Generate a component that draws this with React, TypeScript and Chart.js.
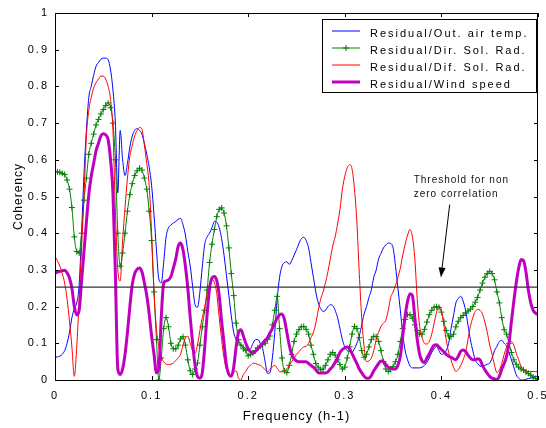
import React, { useEffect, useRef } from 'react';
import { Chart, registerables } from 'chart.js';

Chart.register(...registerables);

const FONT = '"Liberation Sans", Arial, Helvetica, sans-serif';

// Frequency grid step (h-1)
const STEP = 0.0025;

const SERIES_LABELS = [
  'Residual/Out. air temp.',
  'Residual/Dir. Sol. Rad.',
  'Residual/Dif. Sol. Rad.',
  'Residual/Wind speed',
];

const X_TICKS_STEP = 0.1;
const Y_TICKS_STEP = 0.1;
const THRESHOLD = 0.253;
const ANNOTATION_LINES = ['Threshold for non', 'zero correlation'];

const OUT_AIR_TEMP = [
  0.062, 0.063, 0.065, 0.07, 0.08, 0.1, 0.13, 0.17, 0.195, 0.21,
  0.26, 0.4, 0.56, 0.68, 0.77, 0.8, 0.83, 0.855, 0.865, 0.874,
  0.877, 0.877, 0.873, 0.845, 0.79, 0.7, 0.51, 0.68, 0.6, 0.557,
  0.59, 0.635, 0.665, 0.68, 0.685, 0.68, 0.67, 0.645, 0.615, 0.58,
  0.53, 0.45, 0.355, 0.275, 0.265, 0.32, 0.39, 0.415, 0.422, 0.428,
  0.432, 0.438, 0.44, 0.423, 0.395, 0.35, 0.31, 0.255, 0.205, 0.198,
  0.24, 0.31, 0.37, 0.39, 0.4, 0.415, 0.432, 0.43, 0.415, 0.385,
  0.34, 0.285, 0.23, 0.175, 0.13, 0.11, 0.1, 0.095, 0.092, 0.085,
  0.08, 0.085, 0.1, 0.11, 0.11, 0.1, 0.085, 0.05, 0.018, 0.02,
  0.06, 0.13, 0.22, 0.28, 0.31, 0.32, 0.322, 0.315, 0.325, 0.34,
  0.355, 0.372, 0.385, 0.389, 0.38, 0.36, 0.32, 0.28, 0.24, 0.21,
  0.195, 0.187, 0.19, 0.2, 0.205, 0.203, 0.19, 0.17, 0.14, 0.11,
  0.09, 0.08, 0.077, 0.076, 0.085, 0.1, 0.12, 0.15, 0.18, 0.2,
  0.225, 0.246, 0.28, 0.3, 0.33, 0.345, 0.36, 0.368, 0.373, 0.372,
  0.36, 0.31, 0.25, 0.19, 0.125, 0.08, 0.055, 0.038, 0.033, 0.033,
  0.033, 0.033, 0.035, 0.04, 0.048, 0.06, 0.075, 0.085, 0.092, 0.08,
  0.07, 0.072, 0.08, 0.1, 0.14, 0.175, 0.21, 0.222, 0.228, 0.215,
  0.19, 0.15, 0.11, 0.08, 0.055, 0.045, 0.038, 0.037, 0.04, 0.043,
  0.046, 0.06, 0.08, 0.092, 0.105, 0.108, 0.1, 0.092, 0.075, 0.055,
  0.035, 0.014, 0.005, 0.0, 0.0, 0.002, 0.004, 0.005, 0.008, 0.01,
  0.01,
];

const DIR_SOL_RAD = [
  0.568, 0.567, 0.566, 0.563, 0.56, 0.545, 0.52, 0.47, 0.39, 0.35,
  0.346, 0.4, 0.49, 0.55, 0.615, 0.645, 0.67, 0.695, 0.71, 0.725,
  0.737, 0.748, 0.755, 0.742, 0.7, 0.6, 0.4, 0.31, 0.346, 0.4,
  0.46, 0.505, 0.535, 0.557, 0.57, 0.577, 0.572, 0.55, 0.52, 0.46,
  0.38, 0.24, 0.11, 0.0, 0.06, 0.14, 0.17, 0.145, 0.1, 0.085,
  0.085, 0.095, 0.112, 0.118, 0.095, 0.055, 0.025, 0.015, 0.03, 0.046,
  0.095, 0.145, 0.19, 0.245, 0.32, 0.37, 0.41, 0.445, 0.465, 0.469,
  0.455, 0.42, 0.36, 0.29, 0.23, 0.155, 0.11, 0.095, 0.085, 0.08,
  0.066, 0.07, 0.074, 0.08, 0.088, 0.092, 0.097, 0.1, 0.11, 0.12,
  0.15, 0.19, 0.228, 0.14, 0.06, 0.025, 0.02, 0.04, 0.07, 0.105,
  0.125, 0.137, 0.145, 0.146, 0.138, 0.125, 0.095, 0.07, 0.045, 0.035,
  0.028, 0.03, 0.04, 0.055, 0.07, 0.075, 0.068, 0.055, 0.042, 0.03,
  0.035, 0.06, 0.09, 0.125, 0.146, 0.14, 0.115, 0.08, 0.062, 0.07,
  0.09, 0.11, 0.119, 0.118, 0.105, 0.08, 0.05, 0.03, 0.023, 0.028,
  0.037, 0.05, 0.07, 0.105, 0.14, 0.165, 0.178, 0.178, 0.168, 0.15,
  0.135, 0.125, 0.125, 0.138, 0.158, 0.178, 0.19, 0.198, 0.2, 0.198,
  0.185, 0.16, 0.135, 0.12, 0.118, 0.125, 0.145, 0.16, 0.17, 0.176,
  0.183, 0.188, 0.193, 0.2, 0.212, 0.225, 0.245, 0.264, 0.28, 0.29,
  0.296, 0.29, 0.273, 0.24, 0.21, 0.17, 0.137, 0.125, 0.1, 0.075,
  0.055, 0.043, 0.035, 0.03, 0.027, 0.022, 0.018, 0.013, 0.008, 0.004,
  0.0,
];

const DIF_SOL_RAD = [
  0.337, 0.325, 0.31, 0.29, 0.264, 0.22, 0.16, 0.09, 0.01, 0.09,
  0.22, 0.36, 0.5, 0.665, 0.735, 0.77, 0.795, 0.81, 0.82, 0.828,
  0.828, 0.82, 0.8, 0.765, 0.68, 0.46, 0.3, 0.27, 0.38, 0.47,
  0.55, 0.61, 0.64, 0.665, 0.68, 0.688, 0.683, 0.64, 0.59, 0.53,
  0.4, 0.24, 0.14, 0.09, 0.064, 0.05, 0.043, 0.042, 0.043, 0.046,
  0.053, 0.06, 0.07, 0.095, 0.115, 0.119, 0.1, 0.08, 0.073, 0.095,
  0.135, 0.17, 0.2, 0.235, 0.26, 0.275, 0.265, 0.235, 0.17, 0.11,
  0.06, 0.028, 0.018, 0.01, 0.02, 0.025, 0.005, 0.0, 0.015, 0.023,
  0.035, 0.04, 0.046, 0.045, 0.042, 0.04, 0.035, 0.028, 0.023, 0.028,
  0.036, 0.04, 0.032, 0.023, 0.022, 0.025, 0.03, 0.04, 0.05, 0.06,
  0.07, 0.077, 0.085, 0.09, 0.092, 0.1, 0.115, 0.13, 0.155, 0.19,
  0.22, 0.24, 0.265, 0.295, 0.33, 0.365, 0.39, 0.425, 0.465, 0.52,
  0.555, 0.578, 0.587, 0.575, 0.52, 0.43, 0.29, 0.17, 0.09, 0.05,
  0.052, 0.06, 0.08, 0.11, 0.13, 0.146, 0.155, 0.163, 0.19, 0.225,
  0.24, 0.258, 0.28, 0.305, 0.34, 0.37, 0.395, 0.41, 0.39, 0.33,
  0.22, 0.146, 0.115, 0.1, 0.098, 0.105, 0.125, 0.155, 0.185, 0.2,
  0.19, 0.15, 0.11, 0.075, 0.055, 0.035, 0.023, 0.028, 0.04, 0.055,
  0.075, 0.11, 0.146, 0.17, 0.187, 0.192, 0.19, 0.18, 0.158, 0.13,
  0.095, 0.07, 0.04, 0.02, 0.028, 0.045, 0.07, 0.09, 0.103, 0.105,
  0.095, 0.073, 0.055, 0.037, 0.03, 0.025, 0.023, 0.023, 0.023, 0.023,
  0.023,
];

const WIND_SPEED = [
  0.291, 0.294, 0.296, 0.298, 0.299, 0.292, 0.278, 0.25, 0.2, 0.177,
  0.19, 0.27, 0.35, 0.43, 0.505, 0.555, 0.59, 0.625, 0.645, 0.665,
  0.671, 0.668, 0.655, 0.6, 0.51, 0.29, 0.03, 0.015, 0.03, 0.07,
  0.13, 0.2, 0.26, 0.29, 0.302, 0.305, 0.295, 0.265, 0.23, 0.18,
  0.12, 0.07, 0.02, 0.03, 0.17, 0.264, 0.27, 0.273, 0.282, 0.305,
  0.33, 0.364, 0.373, 0.355, 0.31, 0.25, 0.17, 0.1, 0.04, 0.01,
  0.005, 0.02, 0.09, 0.18, 0.25, 0.278, 0.282, 0.27, 0.23, 0.16,
  0.1, 0.04, 0.015, 0.01, 0.035, 0.09, 0.13, 0.137, 0.12, 0.1,
  0.085, 0.077, 0.074, 0.078, 0.085, 0.092, 0.1, 0.108, 0.115, 0.128,
  0.14, 0.155, 0.168, 0.178, 0.18, 0.165, 0.13, 0.095, 0.07, 0.058,
  0.052, 0.05, 0.05, 0.05, 0.05, 0.045, 0.04, 0.035, 0.028, 0.02,
  0.019, 0.019, 0.019, 0.022, 0.03, 0.037, 0.048, 0.06, 0.075, 0.083,
  0.088, 0.09, 0.085, 0.072, 0.058, 0.045, 0.03, 0.02, 0.01, 0.005,
  0.005, 0.012, 0.025, 0.035, 0.045, 0.052, 0.05, 0.042, 0.035, 0.033,
  0.03, 0.03, 0.04, 0.065, 0.12, 0.175, 0.215, 0.235, 0.23, 0.17,
  0.11, 0.07, 0.052, 0.048, 0.06, 0.072, 0.085, 0.095, 0.096, 0.09,
  0.083, 0.077, 0.07, 0.065, 0.062, 0.058, 0.055, 0.065, 0.078, 0.082,
  0.078, 0.068, 0.06, 0.055, 0.055, 0.058, 0.055, 0.04, 0.028, 0.018,
  0.01, 0.005, 0.003, 0.002, 0.01, 0.03, 0.045, 0.065, 0.1, 0.16,
  0.215, 0.265, 0.305, 0.328, 0.325, 0.295, 0.245, 0.21, 0.19, 0.182,
  0.178,
];

const FREQ = OUT_AIR_TEMP.map((_, i) => Math.round(i * STEP * 10000) / 10000);

const COLORS = ['#0000ff', '#008000', '#ff0000', '#bf00bf'];
const WIDTHS = [1, 1, 1, 3];

const toXY = (vals: number[]) => vals.map((v, i) => ({ x: FREQ[i], y: v }));
const fmtTick = (v: any) => String(Number(Number(v).toFixed(2)));

const overlayPlugin = {
  id: 'overlay',
  beforeDraw(chart: any) {
    chart.ctx.letterSpacing = '2px';
  },
  afterDatasetsDraw(chart: any) {
    chart.ctx.letterSpacing = '1px';
  },
  afterDraw(chart: any) {
    const { ctx, chartArea: a } = chart;
    const xs = chart.scales.x;
    const ys = chart.scales.y;
    ctx.save();
    ctx.letterSpacing = '0px';
    // axes box
    ctx.strokeStyle = '#000';
    ctx.lineWidth = 1;
    ctx.strokeRect(a.left + 0.5, a.top + 0.5, a.right - a.left - 1, a.bottom - a.top);
    // inward ticks on all four sides
    const TL = 4;
    ctx.beginPath();
    xs.ticks.forEach((t: any) => {
      const px = Math.round(xs.getPixelForValue(t.value)) + 0.5;
      ctx.moveTo(px, a.bottom);
      ctx.lineTo(px, a.bottom - TL);
      ctx.moveTo(px, a.top);
      ctx.lineTo(px, a.top + TL);
    });
    ys.ticks.forEach((t: any) => {
      const py = Math.round(ys.getPixelForValue(t.value)) + 0.5;
      ctx.moveTo(a.left, py);
      ctx.lineTo(a.left + TL, py);
      ctx.moveTo(a.right, py);
      ctx.lineTo(a.right - TL, py);
    });
    ctx.stroke();

    // annotation text
    ctx.fillStyle = '#111';
    ctx.font = `10px ${FONT}`;
    ctx.letterSpacing = '1px';
    ctx.textBaseline = 'alphabetic';
    ctx.textAlign = 'left';
    const tx = xs.getPixelForValue(0.3713);
    ctx.fillText(ANNOTATION_LINES[0], tx, ys.getPixelForValue(0.536));
    ctx.fillText(ANNOTATION_LINES[1], tx, ys.getPixelForValue(0.5));
    ctx.letterSpacing = '0px';

    // arrow
    const x0 = xs.getPixelForValue(0.4086);
    const y0 = ys.getPixelForValue(0.478);
    const x1 = xs.getPixelForValue(0.3995);
    const y1 = ys.getPixelForValue(0.279);
    const ang = Math.atan2(y1 - y0, x1 - x0);
    const hl = 10;
    const hw = 3.5;
    ctx.strokeStyle = '#000';
    ctx.lineWidth = 1;
    ctx.beginPath();
    ctx.moveTo(x0, y0);
    ctx.lineTo(x1 - Math.cos(ang) * hl * 0.6, y1 - Math.sin(ang) * hl * 0.6);
    ctx.stroke();
    const bx = x1 - Math.cos(ang) * hl;
    const by = y1 - Math.sin(ang) * hl;
    ctx.fillStyle = '#000';
    ctx.beginPath();
    ctx.moveTo(x1, y1);
    ctx.lineTo(bx + Math.sin(ang) * hw, by - Math.cos(ang) * hw);
    ctx.lineTo(bx - Math.sin(ang) * hw, by + Math.cos(ang) * hw);
    ctx.closePath();
    ctx.fill();

    // legend
    const lw = 214;
    const lh = 73;
    const lx = a.right - 216;
    const ly = a.top + 6;
    ctx.fillStyle = '#fff';
    ctx.fillRect(lx, ly, lw, lh);
    ctx.strokeStyle = '#000';
    ctx.lineWidth = 1;
    ctx.strokeRect(lx + 0.5, ly + 0.5, lw, lh);
    ctx.font = `11px ${FONT}`;
    ctx.letterSpacing = '2px';
    ctx.textBaseline = 'alphabetic';
    SERIES_LABELS.forEach((lab, i) => {
      const yy = ly + 12 + 17 * i;
      ctx.strokeStyle = COLORS[i];
      ctx.lineWidth = WIDTHS[i];
      ctx.beginPath();
      ctx.moveTo(lx + 10, yy);
      ctx.lineTo(lx + 38, yy);
      ctx.stroke();
      if (i === 1) {
        ctx.lineWidth = 1;
        ctx.beginPath();
        ctx.moveTo(lx + 24, yy - 3);
        ctx.lineTo(lx + 24, yy + 3);
        ctx.moveTo(lx + 21, yy);
        ctx.lineTo(lx + 27, yy);
        ctx.stroke();
      }
      ctx.fillStyle = '#000';
      ctx.fillText(lab, lx + 48, yy + 6);
    });
    ctx.restore();
  },
};

export default function App() {
  const ref = useRef<HTMLCanvasElement>(null);
  useEffect(() => {
    const seriesData = [OUT_AIR_TEMP, DIR_SOL_RAD, DIF_SOL_RAD, WIND_SPEED];
    const datasets: any[] = seriesData.map((vals, i) => ({
      label: SERIES_LABELS[i],
      data: toXY(vals),
      borderColor: COLORS[i],
      backgroundColor: COLORS[i],
      borderWidth: WIDTHS[i],
      pointRadius: i === 1 ? 3 : 0,
      pointStyle: 'cross',
      pointBorderColor: COLORS[i],
      pointBorderWidth: 1,
      cubicInterpolationMode: 'monotone',
      fill: false,
      order: 5 - i,
    }));
    datasets.push({
      label: 'threshold',
      data: [
        { x: FREQ[0], y: THRESHOLD },
        { x: FREQ[FREQ.length - 1], y: THRESHOLD },
      ],
      borderColor: '#333',
      borderWidth: 1.4,
      pointRadius: 0,
      fill: false,
      order: 0,
    });
    const chart = new Chart(ref.current as HTMLCanvasElement, {
      type: 'line',
      data: { datasets },
      plugins: [overlayPlugin],
      options: {
        responsive: false,
        animation: false,
        events: [],
        layout: { padding: { left: 4, right: 8, top: 13, bottom: 0 } },
        plugins: {
          legend: { display: false },
          tooltip: { enabled: false },
        },
        scales: {
          x: {
            type: 'linear',
            min: 0,
            max: 0.5,
            grid: { display: false, drawTicks: false, z: 1 },
            border: { display: false },
            ticks: {
              stepSize: X_TICKS_STEP,
              padding: 9,
              maxRotation: 0,
              autoSkip: false,
              color: '#000',
              font: { family: FONT, size: 11 },
              callback: fmtTick,
            },
            title: {
              display: true,
              text: 'Frequency (h-1)',
              color: '#000',
              font: { family: FONT, size: 13 },
              padding: { top: 0, bottom: 4 },
            },
            afterFit: (s: any) => {
              s.height = 48;
              s.paddingLeft = 0;
              s.paddingRight = 0;
            },
          },
          y: {
            type: 'linear',
            min: 0,
            max: 1,
            grid: { display: false, drawTicks: false, z: 1 },
            border: { display: false },
            ticks: {
              stepSize: Y_TICKS_STEP,
              padding: 6,
              color: '#000',
              font: { family: FONT, size: 11 },
              callback: fmtTick,
            },
            title: {
              display: true,
              text: 'Coherency',
              color: '#000',
              font: { family: FONT, size: 12 },
              padding: { top: 7.5, bottom: 0 },
            },
            afterFit: (s: any) => {
              s.width = 51;
              s.paddingTop = 0;
              s.paddingBottom = 0;
            },
          },
        },
      } as any,
    });
    return () => chart.destroy();
  }, []);
  return (
    <div style={{ position: 'absolute', left: 0, top: 0, width: 546, height: 428, background: '#fff' }}>
      <canvas ref={ref} width={546} height={428} style={{ display: 'block', width: 546, height: 428 }} />
    </div>
  );
}
